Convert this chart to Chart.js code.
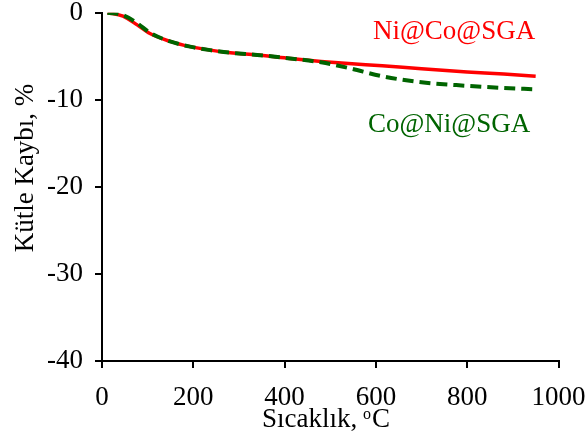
<!DOCTYPE html>
<html>
<head>
<meta charset="utf-8">
<script src="https://cdn.jsdelivr.net/npm/chart.js@4"></script>
<style>
  html, body { margin: 0; padding: 0; background: #fff; }
  #wrap { width: 587px; height: 439px; }
</style>
</head>
<body>
<div id="wrap"><canvas id="tga"></canvas></div>
<script>
// Sıcaklık (°C) ve kütle kaybı (%) değerleri
const sicaklik = [12, 46, 77, 105, 149, 193, 237, 281, 340, 412, 480, 540, 614, 700, 800, 880, 950];
const niCoSGA  = [0, -0.4, -1.4, -2.4, -3.3, -3.9, -4.3, -4.6, -4.85, -5.25, -5.6, -5.85, -6.1, -6.45, -6.8, -7.05, -7.3];
const coNiSGA  = [0, -0.3, -1.2, -2.3, -3.3, -3.9, -4.3, -4.6, -4.85, -5.25, -5.7, -6.35, -7.3, -8.0, -8.4, -8.65, -8.8];
const xTicks = [0, 200, 400, 600, 800, 1000];
const yTicks = [0, -10, -20, -30, -40];

const FONT = "'Liberation Serif', 'Times New Roman', serif";

function pts(vals) {
    return sicaklik.map((t, i) => ({ x: t, y: vals[i] }));
}

// Eksen başlıkları ve seri etiketleri
const labelsPlugin = {
    id: 'labels',
    afterDraw(chart) {
        const ctx = chart.ctx;
        ctx.save();
        ctx.font = '27px ' + FONT;
        ctx.textBaseline = 'alphabetic';

        ctx.fillStyle = '#ff0000';
        ctx.textAlign = 'left';
        ctx.fillText('Ni@Co@SGA', 373, 39);
        ctx.fillStyle = '#006400';
        ctx.fillText('Co@Ni@SGA', 368, 132);

        // x ekseni başlığı, üst simge "o" ile
        ctx.fillStyle = '#000';
        const a = 'Sıcaklık, ', c = 'C';
        ctx.font = '27px ' + FONT;
        const wa = ctx.measureText(a).width, wc = ctx.measureText(c).width;
        ctx.font = '16px ' + FONT;
        const wo = ctx.measureText('o').width;
        const x = 326 - (wa + wo + wc) / 2;
        const base = 427;
        ctx.font = '27px ' + FONT;
        ctx.fillText(a, x, base);
        ctx.font = '16px ' + FONT;
        ctx.fillText('o', x + wa - 1, base - 8);
        ctx.font = '27px ' + FONT;
        ctx.fillText(c, x + wa + wo, base);

        // y ekseni başlığı
        ctx.translate(33, 168);
        ctx.rotate(-Math.PI / 2);
        ctx.textAlign = 'center';
        ctx.fillText('Kütle Kaybı, %', 0, 0);
        ctx.restore();
    }
};

new Chart(document.getElementById('tga'), {
    type: 'line',
    data: {
        datasets: [
            {
                label: 'Ni@Co@SGA',
                data: pts(niCoSGA),
                borderColor: '#ff0000',
                borderWidth: 3.5,
                pointRadius: 0,
                cubicInterpolationMode: 'monotone',
                order: 2
            },
            {
                label: 'Co@Ni@SGA',
                data: pts(coNiSGA),
                borderColor: '#006400',
                borderWidth: 4,
                borderDash: [11, 6],
                pointRadius: 0,
                cubicInterpolationMode: 'monotone',
                order: 1
            }
        ]
    },
    options: {
        responsive: true,
        maintainAspectRatio: false,
        animation: false,
        layout: { padding: { top: 12.5, right: 28.5, left: 0, bottom: 0 } },
        plugins: {
            legend: { display: false },
            tooltip: { enabled: false }
        },
        scales: {
            x: {
                type: 'linear',
                min: 0,
                max: 1000,
                afterBuildTicks: s => { s.ticks = xTicks.map(v => ({ value: v })); },
                afterFit: s => { s.height = 78; },
                grid: { drawOnChartArea: false, drawTicks: true, tickLength: 7, color: '#000', lineWidth: 2 },
                border: { display: true, color: '#000', width: 2 },
                ticks: {
                    color: '#000',
                    font: { family: FONT, size: 27, lineHeight: 2.24 },
                    padding: 0,
                    maxRotation: 0,
                    callback: v => String(v)
                },
                title: { display: false }
            },
            y: {
                type: 'linear',
                min: -40,
                max: 0,
                afterBuildTicks: s => { s.ticks = yTicks.map(v => ({ value: v })); },
                afterFit: s => { s.width = 102; },
                grid: { drawOnChartArea: false, drawTicks: true, tickLength: 7, color: '#000', lineWidth: 2 },
                border: { display: true, color: '#000', width: 2 },
                ticks: {
                    color: '#000',
                    font: { family: FONT, size: 27, lineHeight: 0.05 },
                    padding: 12,
                    callback: v => String(v)
                },
                title: { display: false }
            }
        }
    },
    plugins: [labelsPlugin]
});
</script>
</body>
</html>
